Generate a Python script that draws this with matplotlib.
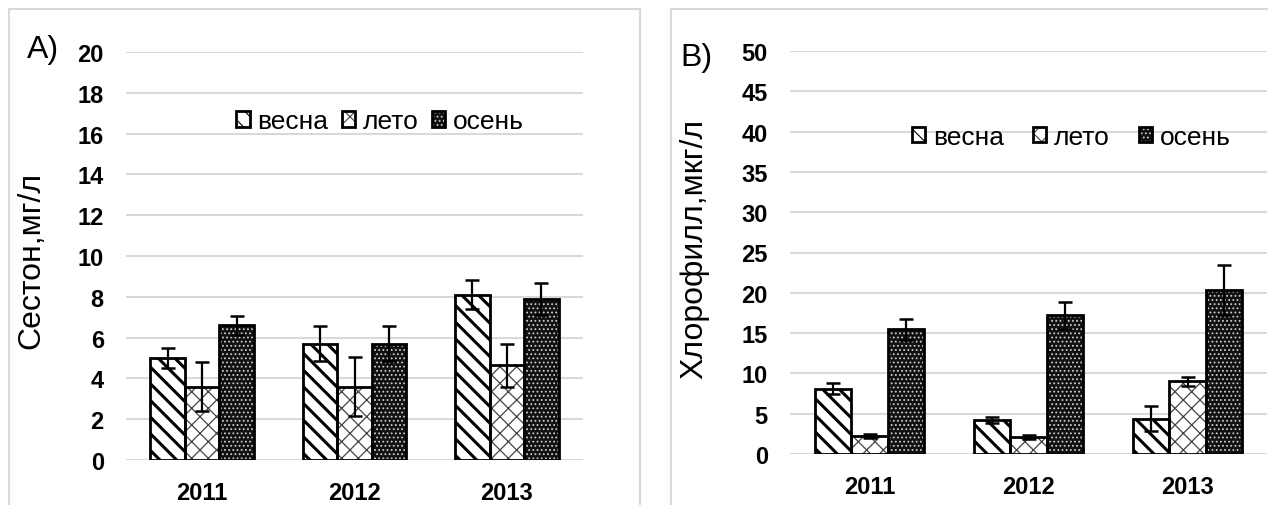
import numpy as np
import matplotlib
matplotlib.use("Agg")
import matplotlib.pyplot as plt
from matplotlib.patches import Rectangle
from matplotlib.legend_handler import HandlerTuple

plt.rcParams['font.family'] = ['Liberation Sans', 'DejaVu Sans']

years = ['2011', '2012', '2013']
seasons = ['весна', 'лето', 'осень']

# A) сестон, мг/л
seston = {'весна': [5.0, 5.7, 8.1],
          'лето': [3.6, 3.6, 4.65],
          'осень': [6.6, 5.7, 7.9]}
seston_err = {'весна': [0.5, 0.85, 0.7],
              'лето': [1.2, 1.45, 1.05],
              'осень': [0.45, 0.85, 0.8]}

# B) хлорофилл, мкг/л
chl = {'весна': [8.1, 4.2, 4.4],
       'лето': [2.2, 2.1, 9.0],
       'осень': [15.5, 17.2, 20.4]}
chl_err = {'весна': [0.7, 0.4, 1.6],
           'лето': [0.25, 0.2, 0.6],
           'осень': [1.3, 1.7, 3.1]}

W, H = 1268, 506
fig = plt.figure(figsize=(W / 100, H / 100), dpi=100)


def px(x0, y0, x1, y1):
    # pixel box -> figure fraction rect
    return [x0 / W, 1 - y1 / H, (x1 - x0) / W, (y1 - y0) / H]


def draw_panel(ax, vals, errs, ymax, step, leg_anchor, colsp):
    x = np.arange(len(years))
    w = 0.227
    handles = []
    for j, s in enumerate(seasons):
        pos = x + (j - 1) * w
        if s == 'весна':
            plt.rcParams['hatch.linewidth'] = 2.2
            b = ax.bar(pos, vals[s], w, color='white', edgecolor='black',
                       hatch='\\\\', linewidth=0, zorder=2)
        elif s == 'лето':
            plt.rcParams['hatch.linewidth'] = 0.9
            b = ax.bar(pos, vals[s], w, color='white', edgecolor='#444444',
                       hatch='xx', linewidth=0, zorder=2)
        else:
            plt.rcParams['hatch.linewidth'] = 0.8
            b = ax.bar(pos, vals[s], w, color='#111111', edgecolor='#cccccc',
                       hatch='....', linewidth=0, zorder=2)
        o = ax.bar(pos, vals[s], w, fill=False, edgecolor='black',
                   linewidth=2.0, zorder=3)
        ax.errorbar(pos, vals[s], yerr=errs[s], fmt='none', ecolor='black',
                    elinewidth=1.6, capsize=5, capthick=1.8, zorder=4)
        handles.append((b, o))
    ax.set_ylim(0, ymax)
    ax.set_xlim(-0.5, 2.5)
    ax.set_yticks(np.arange(0, ymax + 1, step))
    ax.set_xticks(x)
    ax.set_xticklabels(years)
    ax.grid(axis='y', color='#d9d9d9', linewidth=1.5, zorder=0)
    ax.set_axisbelow(True)
    for sp in ax.spines.values():
        sp.set_visible(False)
    ax.tick_params(length=0)
    ax.tick_params(axis='y', pad=16)
    ax.tick_params(axis='x', pad=15)
    for t in ax.get_xticklabels() + ax.get_yticklabels():
        t.set_fontweight('bold')
        t.set_fontsize(17)
    ax.legend(handles, seasons, loc='center', bbox_to_anchor=leg_anchor,
              ncol=3, frameon=False, fontsize=19, handlelength=0.5,
              handleheight=0.5, handletextpad=0.3, columnspacing=colsp,
              borderpad=0,
              handler_map={tuple: HandlerTuple(ndivide=1, pad=0)})


# panel frames
fig.patches.append(Rectangle((9 / W, -0.1), (640 - 9) / W, 1.1 - 10 / H,
                             transform=fig.transFigure, fill=False,
                             edgecolor='#d9d9d9', linewidth=1.5))
fig.patches.append(Rectangle((671 / W, -0.1), 1.0, 1.1 - 10 / H,
                             transform=fig.transFigure, fill=False,
                             edgecolor='#d9d9d9', linewidth=1.5))

ax1 = fig.add_axes(px(126, 53, 583, 461))
draw_panel(ax1, seston, seston_err, 20, 2, (0.556, 0.83), 0.5)

ax2 = fig.add_axes(px(790, 52, 1267, 455))
draw_panel(ax2, chl, chl_err, 50, 5, (0.59, 0.787), 1.1)

fig.text(27 / W, 1 - 50 / H, 'A)', fontsize=23, va='center', ha='left')
fig.text(680 / W, 1 - 58 / H, 'B)', fontsize=23, va='center', ha='left')
fig.text(31 / W, 1 - 260 / H, 'Сестон,мг/л', fontsize=23, rotation=90,
         va='center', ha='center')
fig.text(694 / W, 1 - 249 / H, 'Хлорофилл,мкг/л', fontsize=23, rotation=90,
         va='center', ha='center')

fig.savefig('out.png', dpi=100)
